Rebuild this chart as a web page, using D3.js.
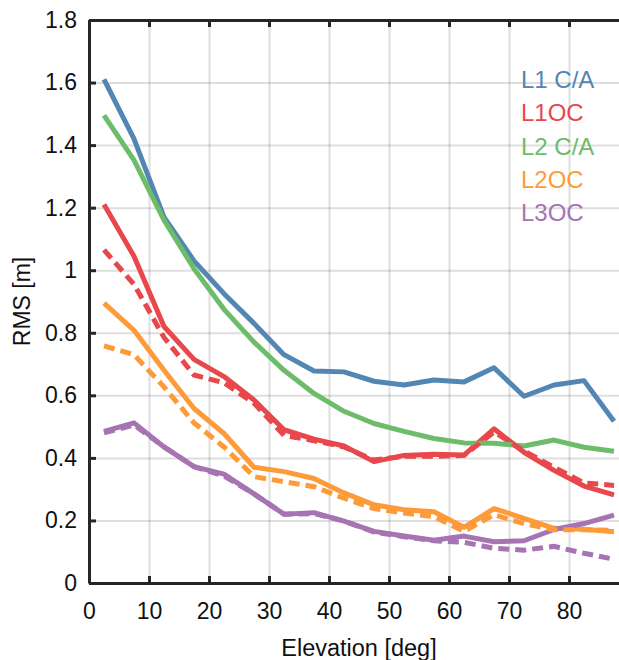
<!DOCTYPE html>
<html>
<head>
<meta charset="utf-8">
<script src="https://cdn.jsdelivr.net/npm/d3@7"></script>
<style>
  html, body { margin: 0; padding: 0; background: #fff; }
  svg { display: block; font-family: "Liberation Sans", Arial, Helvetica, sans-serif; }
</style>
</head>
<body>
<div id="chart"></div>
<script>
// elevation bin centres (deg)
const elevation = [2.5, 7.5, 12.5, 17.5, 22.5, 27.5, 32.5, 37.5, 42.5, 47.5, 52.5, 57.5, 62.5, 67.5, 72.5, 77.5, 82.5, 87.5];

// RMS [m], solid lines
const l1ca = [1.61, 1.42, 1.17, 1.03, 0.925, 0.83, 0.73, 0.678, 0.675, 0.645, 0.633, 0.649, 0.643, 0.688, 0.597, 0.633, 0.647, 0.517];
const l1oc = [1.21, 1.045, 0.82, 0.715, 0.66, 0.585, 0.49, 0.46, 0.438, 0.388, 0.408, 0.412, 0.409, 0.493, 0.418, 0.36, 0.31, 0.282];
const l2ca = [1.495, 1.352, 1.16, 1.005, 0.875, 0.77, 0.68, 0.606, 0.549, 0.51, 0.485, 0.462, 0.448, 0.447, 0.438, 0.457, 0.434, 0.421];
const l2oc = [0.895, 0.808, 0.68, 0.558, 0.478, 0.37, 0.356, 0.334, 0.288, 0.25, 0.234, 0.228, 0.178, 0.238, 0.207, 0.175, 0.172, 0.164];
const l3oc = [0.485, 0.512, 0.435, 0.372, 0.348, 0.285, 0.22, 0.225, 0.198, 0.165, 0.15, 0.137, 0.15, 0.132, 0.135, 0.171, 0.19, 0.217];

// RMS [m], dash-dot lines
const l1ocDash = [1.065, 0.955, 0.785, 0.665, 0.64, 0.575, 0.472, 0.455, 0.435, 0.393, 0.405, 0.405, 0.408, 0.483, 0.422, 0.37, 0.32, 0.312];
const l2ocDash = [0.758, 0.73, 0.627, 0.512, 0.435, 0.34, 0.324, 0.308, 0.271, 0.238, 0.224, 0.212, 0.165, 0.218, 0.19, 0.17, 0.17, 0.168];
const l3ocDash = [0.48, 0.505, 0.435, 0.372, 0.342, 0.285, 0.22, 0.222, 0.198, 0.163, 0.148, 0.135, 0.13, 0.111, 0.105, 0.117, 0.095, 0.076];

const signalNames = ["L1 C/A", "L1OC", "L2 C/A", "L2OC", "L3OC"];
const colors = ["#5386b3", "#e8474b", "#6cbc6a", "#fd9b3a", "#a673b3"];

const xTicks = [0, 10, 20, 30, 40, 50, 60, 70, 80];
const yTicks = [0, 0.2, 0.4, 0.6, 0.8, 1, 1.2, 1.4, 1.6, 1.8];

const width = 619, height = 660;
const plotLeft = 89, plotTop = 20, plotBottom = 583;

const svg = d3.select('#chart').append('svg')
    .attr('width', width)
    .attr('height', height);

const x = d3.scaleLinear().domain([0, 90]).range([plotLeft, plotLeft + 540]);
const y = d3.scaleLinear().domain([0, 1.8]).range([plotBottom, plotTop]);

// grid
const gridColor = 'rgba(0,0,0,0.13)';
svg.append('g')
    .attr('transform', `translate(0,${plotBottom})`)
    .call(d3.axisBottom(x).tickValues(xTicks).tickSize(-(plotBottom - plotTop)).tickFormat(''))
    .call(g => g.select('.domain').remove())
    .call(g => g.selectAll('line').attr('stroke', gridColor).attr('stroke-width', 2));
svg.append('g')
    .attr('transform', `translate(${plotLeft},0)`)
    .call(d3.axisLeft(y).tickValues(yTicks).tickSize(-(width - plotLeft + 20)).tickFormat(''))
    .call(g => g.select('.domain').remove())
    .call(g => g.selectAll('line').attr('stroke', gridColor).attr('stroke-width', 2));

// lines
const line = d3.line()
    .x((d, i) => x(elevation[i]))
    .y(d => y(d));

const solid = [l1ca, l1oc, l2ca, l2oc, l3oc];
const dashed = [[l1ocDash, 1], [l2ocDash, 3], [l3ocDash, 4]];

svg.append('g')
    .selectAll('path')
    .data(solid)
    .join('path')
    .attr('d', d => line(d))
    .attr('fill', 'none')
    .attr('stroke', (d, i) => colors[i])
    .attr('stroke-width', 5)
    .attr('stroke-linejoin', 'round');

svg.append('g')
    .selectAll('path')
    .data(dashed)
    .join('path')
    .attr('d', d => line(d[0]))
    .attr('fill', 'none')
    .attr('stroke', d => colors[d[1]])
    .attr('stroke-width', 5)
    .attr('stroke-dasharray', '11,6');

// axes
const axisColor = '#262626';
function styleAxis(g) {
    g.select('.domain').attr('stroke', axisColor).attr('stroke-width', 3);
    g.selectAll('.tick line').attr('stroke', axisColor).attr('stroke-width', 3);
    g.selectAll('.tick text').attr('fill', '#111').style('font-size', '23px');
}

svg.append('g')
    .attr('transform', `translate(0,${plotBottom})`)
    .call(d3.axisBottom(x).tickValues(xTicks).tickSize(-7).tickSizeOuter(0).tickPadding(20).tickFormat(d3.format('d')))
    .call(styleAxis);

svg.append('g')
    .attr('transform', `translate(0,${plotTop})`)
    .call(d3.axisTop(x).tickValues(xTicks).tickSize(-7).tickSizeOuter(0).tickFormat(''))
    .call(styleAxis);

svg.append('g')
    .attr('transform', `translate(${plotLeft},0)`)
    .call(d3.axisLeft(y).tickValues(yTicks).tickSize(-7).tickSizeOuter(0).tickPadding(12).tickFormat(d => String(+d.toFixed(1))))
    .call(styleAxis);

// axis labels
svg.append('text')
    .attr('x', x(45))
    .attr('y', 656)
    .attr('text-anchor', 'middle')
    .style('font-size', '23.5px')
    .attr('fill', '#111')
    .text('Elevation [deg]');

svg.append('text')
    .attr('transform', `translate(30,${(plotTop + plotBottom) / 2}) rotate(-90)`)
    .attr('text-anchor', 'middle')
    .style('font-size', '23px')
    .attr('fill', '#111')
    .text('RMS [m]');

// legend
svg.append('g')
    .selectAll('text')
    .data(signalNames)
    .join('text')
    .attr('x', 521)
    .attr('y', (d, i) => 88 + i * 33.3)
    .style('font-size', '24px')
    .attr('fill', (d, i) => colors[i])
    .text(d => d);
</script>
</body>
</html>
